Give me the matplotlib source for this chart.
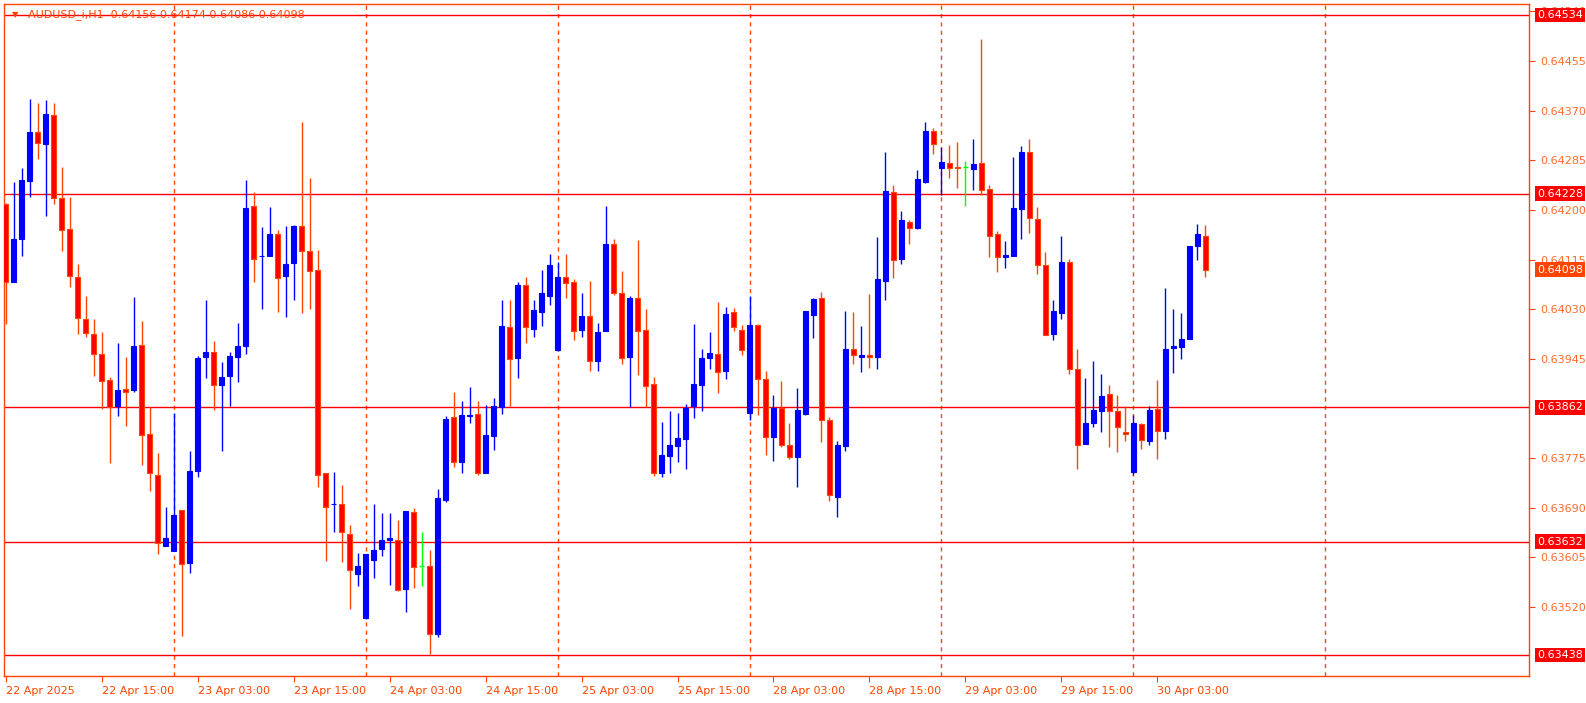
import matplotlib
matplotlib.use("Agg")
import matplotlib.pyplot as plt
import numpy as np

opens = [.64210,.64077,.64151,.64249,.64334,.64313,.64362,.64220,.64167,.64086,
.64014,.63988,.63954,.63909,.63864,.63894,.63892,.63969,.63816,.63746,
.63624,.63616,.63687,.63596,.63753,.63948,.63957,.63901,.63916,.63949,
.63967,.64207,.64121,.64121,.64159,.64087,.64109,.64172,.64130,.64097,
.63749,.63696,.63696,.63646,.63576,.63501,.63600,.63619,.63635,.63635,
.63551,.63683,.63591,.63591,.63474,.63704,.63845,.63768,.63848,.63851,
.63750,.63813,.63863,.64000,.63947,.64071,.63997,.64026,.64052,.63961,
.64086,.64077,.63995,.64019,.63942,.63992,.64141,.64057,.63949,.64050,
.63995,.63902,.63750,.63779,.63795,.63808,.63865,.63901,.63946,.63954,
.63925,.64025,.63995,.63852,.64003,.63910,.63811,.63861,.63797,.63777,
.63851,.64021,.64050,.63841,.63708,.63795,.63962,.63949,.63951,.63949,
.64079,.64230,.64116,.64180,.64169,.64248,.64335,.64272,.64280,.64274,
.64273,.64270,.64280,.64236,.64158,.64120,.64122,.64201,.64300,.64185,
.64105,.63988,.64024,.64111,.63927,.63799,.63835,.63856,.63885,.63856,
.63820,.63751,.63833,.63804,.63859,.63822,.63963,.63966,.63979,.64138,
.64156]
highs = [.64212,.64248,.64272,.64390,.64384,.64389,.64384,.64274,.64223,.64107,
.64053,.64014,.63991,.63914,.63973,.63948,.64051,.64010,.63862,.63784,
.63692,.63853,.63687,.63787,.63950,.64046,.63976,.63940,.63957,.64007,
.64251,.64230,.64170,.64205,.64165,.64172,.64175,.64351,.64254,.64132,
.63749,.63752,.63729,.63661,.63613,.63611,.63696,.63681,.63681,.63669,
.63685,.63689,.63649,.63618,.63723,.63847,.63888,.63873,.63897,.63873,
.63866,.63878,.64045,.64046,.64076,.64086,.64045,.64098,.64124,.64111,
.64125,.64082,.64057,.64079,.64007,.64206,.64150,.64095,.64053,.64148,
.64031,.63914,.63837,.63856,.63853,.63868,.64004,.63962,.63991,.64043,
.64034,.64032,.64003,.64053,.64005,.63924,.63883,.63907,.63836,.63895,
.64027,.64050,.64060,.63846,.63805,.64027,.64025,.64001,.64056,.64153,
.64299,.64242,.64199,.64183,.64268,.64351,.64340,.64308,.64311,.64316,
.64284,.64321,.64493,.64242,.64164,.64147,.64290,.64310,.64322,.64205,
.64128,.64046,.64156,.64116,.63962,.63912,.63942,.63919,.63900,.63883,
.63864,.63849,.63835,.63864,.63909,.64067,.64030,.64024,.64139,.64176,
.64174]
lows = [.64005,.64077,.64122,.64223,.64288,.64189,.64210,.64129,.64068,.63988,
.63983,.63915,.63860,.63767,.63848,.63830,.63889,.63763,.63719,.63611,
.63624,.63616,.63470,.63579,.63743,.63913,.63858,.63788,.63865,.63905,
.63954,.64076,.64030,.64121,.64025,.64016,.64045,.64023,.64030,.63726,
.63599,.63648,.63597,.63516,.63556,.63499,.63570,.63607,.63557,.63547,
.63511,.63553,.63556,.63440,.63468,.63700,.63760,.63750,.63836,.63746,
.63750,.63789,.63851,.63865,.63913,.63973,.63982,.64001,.64037,.63959,
.64049,.63977,.63982,.63925,.63925,.63992,.64054,.63937,.63862,.63918,
.63862,.63745,.63743,.63750,.63769,.63757,.63844,.63856,.63927,.63887,
.63911,.63992,.63952,.63840,.63849,.63781,.63771,.63794,.63773,.63725,
.63849,.63980,.63802,.63701,.63675,.63787,.63936,.63923,.63930,.63928,
.64045,.64083,.64107,.64141,.64167,.64246,.64295,.64225,.64255,.64238,
.64207,.64234,.64225,.64119,.64094,.64101,.64122,.64150,.64160,.64091,
.63986,.63978,.64014,.63919,.63756,.63799,.63829,.63820,.63794,.63785,
.63804,.63747,.63790,.63797,.63773,.63807,.63921,.63945,.63979,.64115,
.64086]
closes = [.64077,.64151,.64251,.64334,.64315,.64364,.64221,.64165,.64087,.64015,
.63989,.63954,.63907,.63863,.63892,.63889,.63967,.63815,.63750,.63630,
.63639,.63677,.63594,.63753,.63947,.63957,.63901,.63914,.63950,.63967,
.64203,.64116,.64122,.64159,.64084,.64108,.64172,.64130,.64095,.63747,
.63692,.63697,.63648,.63584,.63591,.63611,.63618,.63635,.63638,.63549,
.63684,.63589,.63591,.63474,.63707,.63842,.63768,.63849,.63849,.63750,
.63815,.63864,.64002,.63944,.64071,.64000,.64029,.64058,.64105,.64086,
.64075,.63992,.64019,.63942,.63991,.64141,.64057,.63947,.64050,.63992,
.63899,.63750,.63780,.63797,.63810,.63861,.63902,.63947,.63955,.63923,
.64022,.63999,.63960,.64003,.63911,.63811,.63861,.63797,.63777,.63857,
.64027,.64048,.63841,.63712,.63798,.63962,.63951,.63951,.63948,.64082,
.64232,.64114,.64182,.64169,.64253,.64335,.64313,.64282,.64272,.64272,
.64273,.64278,.64234,.64156,.64120,.64123,.64204,.64299,.64186,.64105,
.63986,.64027,.64111,.63928,.63798,.63835,.63857,.63881,.63856,.63828,
.63816,.63836,.63806,.63857,.63822,.63962,.63967,.63979,.64139,.64158,
.64098]

level_lines = [0.64534, 0.64228, 0.63862, 0.63632, 0.63438]
price_ticks = [0.64540, 0.64455, 0.64370, 0.64285, 0.64200, 0.64115, 0.64030,
               0.63945, 0.63775, 0.63690, 0.63605, 0.63520]
time_ticks = list(range(0, 145, 12))
time_labels = ["22 Apr 2025", "22 Apr 15:00", "23 Apr 03:00", "23 Apr 15:00",
               "24 Apr 03:00", "24 Apr 15:00", "25 Apr 03:00", "25 Apr 15:00",
               "28 Apr 03:00", "28 Apr 15:00", "29 Apr 03:00", "29 Apr 15:00",
               "30 Apr 03:00"]
day_breaks = [21, 45, 69, 93, 117, 141, 165]
title = "AUDUSD_i,H1  0.64156 0.64174 0.64086 0.64098"
last_price = 0.64098

W, H = 1586, 703
fig = plt.figure(figsize=(W/100, H/100), dpi=100)
L, R, T, B = 4, 1529, 4.4, 676
ax = fig.add_axes([L/W, 1-B/H, (R-L)/W, (B-T)/H])
ax.set_xlim(-0.2, (R-5.4)/8.0)
ax.set_ylim(0.63402, 0.64552)

OR = "#FF4500"
BLUE = "#0000FF"
RED = "#FF0000"
GREEN = "#00FF00"
FONT = "DejaVu Sans"
FS = 8

for d in day_breaks:
    ax.axvline(d, color=OR, lw=1, ls=(0, (3, 3)), zorder=1)
for lv in level_lines:
    ax.axhline(lv, color=RED, lw=1, zorder=2)

x = np.arange(len(opens))
bw = 0.62
for i in x:
    o, h, l, c = opens[i], highs[i], lows[i], closes[i]
    if c > o:
        col, edge, face = BLUE, BLUE, BLUE
    elif c < o:
        col, edge, face = OR, OR, RED
    else:
        col, edge, face = GREEN, GREEN, GREEN
    ax.vlines(i, l, h, color=col, lw=1, zorder=3)
    if c == o:
        ax.hlines(o, i-bw/2, i+bw/2, color=col, lw=1, zorder=4)
    else:
        ax.bar(i, abs(c-o), bottom=min(o, c), width=bw, color=face,
               edgecolor=edge, lw=0.8, zorder=4)

for s in ax.spines.values():
    s.set_color(OR)
    s.set_linewidth(1)

ax.yaxis.tick_right()
ax.set_yticks(price_ticks)
ax.set_yticklabels([f"{p:.5f}" for p in price_ticks], fontsize=FS,
                   color="#FF6A2A", family=FONT)
ax.tick_params(axis="y", length=4, color=OR, pad=4)
ax.set_xticks(time_ticks)
ax.set_xticklabels(time_labels, fontsize=FS, color=OR, family=FONT, ha="left")
ax.tick_params(axis="x", length=4, color=OR, pad=3)

for lv in level_lines + [last_price]:
    fc = OR if lv == last_price else RED
    ax.text(1.0 + 8/(R-L), lv, f"{lv:.5f}", transform=ax.get_yaxis_transform(),
            ha="left", va="center", fontsize=FS, color="white", family=FONT,
            bbox=dict(boxstyle="square,pad=0.2", fc=fc, ec="none"),
            clip_on=False, zorder=10)

ax.text(8/(R-L), 1-10/(B-T), "▼", transform=ax.transAxes, fontsize=6,
        color=OR, va="center", ha="left", family="DejaVu Sans")
ax.text(24/(R-L), 1-10/(B-T), title, transform=ax.transAxes, fontsize=FS,
        color=OR, va="center", ha="left", family=FONT)

fig.savefig("out.png", dpi=100, facecolor="white")
